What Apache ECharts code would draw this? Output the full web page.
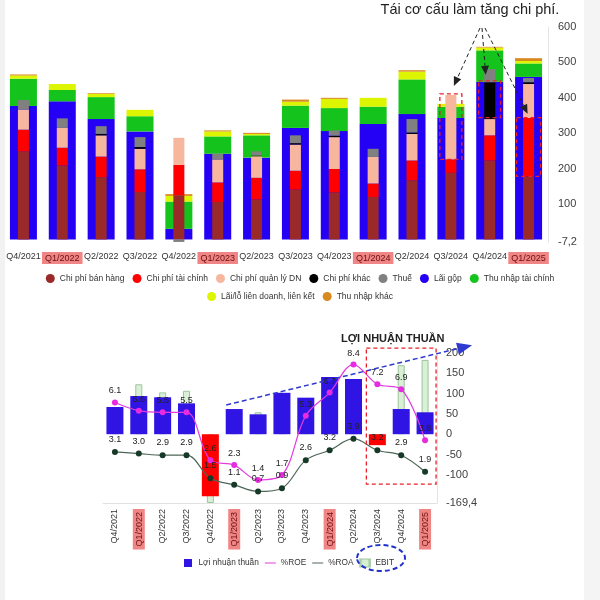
<!DOCTYPE html>
<html><head><meta charset="utf-8">
<script src="https://cdn.jsdelivr.net/npm/echarts@6/dist/echarts.min.js"></script>
<style>html,body{margin:0;padding:0;background:#fff}#c{width:600px;height:600px}</style>
</head><body><div id="c"></div>
<script>
const quarters = ['Q4/2021','Q1/2022','Q2/2022','Q3/2022','Q4/2022','Q1/2023','Q2/2023','Q3/2023','Q4/2023','Q1/2024','Q2/2024','Q3/2024','Q4/2024','Q1/2025'];
// Top chart: income stack (wide bars)
const laiGop          = [377,390,340,305, 30,242,231,315,306,326,354,343,445,459];
const thuNhapTaiChinh = [ 77, 32, 62, 43, 77, 49, 63, 63, 65, 49, 98, 32, 89, 38];
const laiLoLDLK       = [  9, 17,  9, 18, 16, 14,  4, 11, 26, 25, 22,  8,  8,  7];
const thuNhapKhac     = [  3,  0,  2,  0,  5,  3,  3,  6,  3,  0,  4,  0,  2,  8];
// Top chart: cost stack (narrow bars)
const cpBanHang  = [249,209,176,134,125,106,113,141,133,120,167,188,223,178];
const cpTaiChinh = [ 61, 50, 58, 64, 86, 55, 61, 53, 66, 38, 56, 38, 71,165];
const cpQuanLy   = [ 57, 56, 60, 58, 76, 65, 61, 74, 90, 75, 75,182, 46, 96];
const cpKhac     = [  0,  0,  4,  5,  0,  0,  2,  4,  4,  0,  4,  0,104,  5];
const thue       = [ 27, 27, 22, 28, -7, 16, 12, 22, 15, 23, 38,  0, 37, 12];
const topTicks = [-7.2,100,200,300,400,500,600];
// Bottom chart
const loiNhuanThuan = [67,94,91,76,-153,62,49,102,90,141,136,-27,62,54];
const ebit          = [60,123,103,107,-169.4,55,54,95,85,135,130,-20,170,183];
const roe = [6.1,5.6,5.5,5.5,2.6,2.3,1.4,1.7,5.3,6.7,8.4,7.2,6.9,3.8];
const roa = [3.1,3.0,2.9,2.9,1.5,1.1,0.7,0.9,2.6,3.2,3.9,3.2,2.9,1.9];
const bottomTicks = [-169.4,-100,-50,0,50,100,150,200];

const FONT = 'Liberation Sans, Arial, sans-serif';
const C = {brown:'#9A2A2A', red:'#FF0000', peach:'#F7B79F', black:'#000000', gray:'#808080',
  blue:'#2400F5', green:'#14C31B', yellow:'#DDF500', orange:'#D98A1E'};
const hlFmt = v => v.indexOf('Q1') === 0 ? '{hl|' + v + '}' : v;
const hlRich = {hl:{backgroundColor:'#F08585', color:'#6A1010', padding:[2,3,1,3], fontSize:9, fontFamily:FONT}};
const fmtComma = v => String(v).replace('.', ',');
const LINE_ICON = 'path://M0,0L0.01,0L0.01,9L0,9Z M12,0L11.99,0L11.99,9L12,9Z M0,3.9H12V5.1H0Z';
const SQ_ICON = 'path://M0,0L0.01,0L0.01,9L0,9Z M10,0L9.99,0L9.99,9L10,9Z M1,0.5H9V8.5H1Z';

function barS(name, data, xi, color, width, stack, z){
  return {name, type:'bar', data, xAxisIndex:xi, yAxisIndex:0, stack, barWidth:width, z,
    itemStyle:{color}, emphasis:{disabled:true}};
}
const option = {
  animation:false,
  textStyle:{fontFamily:FONT},
  title:{text:'LỢI NHUẬN THUẦN', left:336, top:328, textStyle:{fontSize:11, fontWeight:'bold', color:'#222', fontFamily:FONT}},
  legend:[
    {data:['Chi phí bán hàng','Chi phí tài chính','Chi phí quản lý DN','Chi phí khác','Thuế','Lãi gộp','Thu nhập tài chính'],
     top:269, left:'center', icon:'circle', itemWidth:9, itemHeight:9, itemGap:8, textStyle:{fontSize:8.5, color:'#333'}},
    {data:['Lãi/lỗ liên doanh, liên kết','Thu nhập khác'],
     top:287, left:'center', icon:'circle', itemWidth:9, itemHeight:9, itemGap:8, textStyle:{fontSize:8.5, color:'#333'}},
    {data:[{name:'Lợi nhuận thuần', icon:SQ_ICON, itemStyle:{color:'#2F14E4'}},
           {name:'%ROE', icon:LINE_ICON, itemStyle:{color:'#E23BE0'}},
           {name:'%ROA', icon:LINE_ICON, itemStyle:{color:'#4E6658'}},
           {name:'EBIT', icon:SQ_ICON, itemStyle:{color:'#D6EFD0', borderColor:'#9CC59C', borderWidth:1}}],
     top:553, left:178, itemWidth:11, itemHeight:9, itemGap:6, textStyle:{fontSize:8.3, color:'#333'}}
  ],
  grid:[
    {left:4, right:52, top:27, height:215},
    {left:103, right:163, top:353, height:150}
  ],
  xAxis:[
    {type:'category', gridIndex:0, data:quarters, axisLine:{show:false, onZero:false}, axisTick:{show:false},
     axisLabel:{interval:0, fontSize:9, color:'#333', margin:10, formatter:hlFmt, rich:hlRich}},
    {type:'category', gridIndex:0, data:quarters, show:false},
    {type:'category', gridIndex:1, data:quarters, axisLine:{show:true, onZero:false, lineStyle:{color:'#e2e2e2'}}, axisTick:{show:false},
     axisLabel:{interval:0, rotate:90, fontSize:9, color:'#333', margin:6, formatter:hlFmt, rich:hlRich}},
    {type:'category', gridIndex:1, data:quarters, show:false}
  ],
  yAxis:[
    {type:'value', gridIndex:0, position:'right', min:-7.2, max:600, splitLine:{show:false},
     axisLine:{show:true, lineStyle:{color:'#e4e4e4'}}, axisTick:{show:false},
     axisLabel:{customValues:topTicks, formatter:fmtComma, fontSize:11, color:'#404040', margin:10}},
    {type:'value', gridIndex:1, position:'right', min:-169.4, max:200, splitLine:{show:false},
     axisLine:{show:true, lineStyle:{color:'#e4e4e4'}}, axisTick:{show:false},
     axisLabel:{customValues:bottomTicks, formatter:fmtComma, fontSize:11, color:'#404040', margin:9}},
    {type:'value', gridIndex:1, min:0, max:9.1, show:false}
  ],
  series:[
    barS('Lãi gộp', laiGop, 0, C.blue, 27, 'inc', 2),
    barS('Thu nhập tài chính', thuNhapTaiChinh, 0, C.green, 27, 'inc', 2),
    barS('Lãi/lỗ liên doanh, liên kết', laiLoLDLK, 0, C.yellow, 27, 'inc', 2),
    barS('Thu nhập khác', thuNhapKhac, 0, C.orange, 27, 'inc', 2),
    barS('Chi phí bán hàng', cpBanHang, 1, C.brown, 11, 'cost', 3),
    barS('Chi phí tài chính', cpTaiChinh, 1, C.red, 11, 'cost', 3),
    barS('Chi phí quản lý DN', cpQuanLy, 1, C.peach, 11, 'cost', 3),
    barS('Chi phí khác', cpKhac, 1, C.black, 11, 'cost', 3),
    barS('Thuế', thue, 1, C.gray, 11, 'cost', 3),
    {name:'EBIT', type:'bar', data:ebit, xAxisIndex:3, yAxisIndex:1, barWidth:7, z:2,
     itemStyle:{color:'rgba(205,235,200,0.75)', borderColor:'#9CC59C', borderWidth:1}},
    {name:'Lợi nhuận thuần', type:'bar', data:loiNhuanThuan, xAxisIndex:2, yAxisIndex:1, barWidth:17, z:3,
     itemStyle:{color: p => p.value < 0 ? '#FF0000' : '#2F14E4'}},
    {name:'%ROE', type:'line', data:roe, xAxisIndex:2, yAxisIndex:2, smooth:0.35, z:5,
     symbol:'circle', symbolSize:6, lineStyle:{color:'#E23BE0', width:1.2}, itemStyle:{color:'#E62BE0'},
     label:{show:true, position:'top', distance:4, fontSize:9, color:'#222', formatter:p=>p.value.toFixed(1)}},
    {name:'%ROA', type:'line', data:roa, xAxisIndex:2, yAxisIndex:2, smooth:0.35, z:5,
     symbol:'circle', symbolSize:6, lineStyle:{color:'#4E6658', width:1.2}, itemStyle:{color:'#173A28'},
     label:{show:true, position:'top', distance:5, fontSize:9, color:'#222', formatter:p=>p.value.toFixed(1)}}
  ]
};
const chart = echarts.init(document.getElementById('c'));
chart.setOption(option);

// ---- annotations ----
function px(xi, yi, cat, v){ return chart.convertToPixel({xAxisIndex:xi, yAxisIndex:yi}, [quarters.indexOf(cat), v]); }
function arrow(x1,y1,x2,y2,color,dash,hl,hw,width){
  const dx=x2-x1, dy=y2-y1, L=Math.hypot(dx,dy), ux=dx/L, uy=dy/L;
  const bx=x2-ux*hl, by=y2-uy*hl;
  return [
    {type:'line', shape:{x1,y1,x2:bx,y2:by}, style:{stroke:color, lineWidth:width||1, lineDash:dash}, z:20},
    {type:'polygon', shape:{points:[[x2,y2],[bx-uy*hw,by+ux*hw],[bx+uy*hw,by-ux*hw]]}, style:{fill:color}, z:20}
  ];
}
function box(xi, yi, cat, v1, v2, half, cat2){
  const a = px(xi, yi, cat, v1), b = px(xi, yi, cat2||cat, v2);
  return {type:'rect', shape:{x:a[0]-half, y:a[1], width:(b[0]-a[0])+2*half, height:b[1]-a[1]},
    style:{fill:null, stroke:'#E8202A', lineWidth:1.3, lineDash:[4,3]}, z:21};
}
const g = [];
g.push({type:'rect', shape:{x:0,y:0,width:5,height:600}, style:{fill:'#F2F2F2'}, z:-5});
g.push({type:'rect', shape:{x:584,y:0,width:16,height:600}, style:{fill:'#F4F4F4'}, z:-5});
g.push({type:'text', style:{text:'Tái cơ cấu làm tăng chi phí.', x:470, y:10, align:'center', verticalAlign:'middle', fontSize:14.5, fill:'#222', fontFamily:FONT}, z:20});
const b1 = box(1,0,'Q3/2024',411,226,11), b2 = box(1,0,'Q4/2024',448,344,11), b3 = box(1,0,'Q1/2025',344,178,12);
g.push(b1,b2,b3);
const t1 = px(1,0,'Q3/2024',411), t2 = px(1,0,'Q4/2024',448), t3 = px(1,0,'Q1/2025',344);
g.push(...arrow(480,28,t1[0]+3,t1[1]-8,'#222',[4,3],9,4,1));
g.push(...arrow(482,28,t2[0]-4,t2[1]-6,'#222',[4,3],9,4,1));
g.push(...arrow(485,28,t3[0]-1,t3[1]-4,'#222',[4,3],9,4,1));
// bottom chart
g.push(box(2,1,'Q3/2024',212,-123,11,'Q1/2025'));
const s = px(2,1,'Q1/2023',72), e = px(2,1,'Q1/2025',212);
g.push(...arrow(s[0]-8,s[1],e[0]+47,e[1]-3,'#2F3BD0',[5,3],15,6,1.5));
g.push({type:'ellipse', shape:{cx:381, cy:558, rx:24, ry:13}, style:{fill:null, stroke:'#2233CC', lineWidth:2, lineDash:[5,3]}, z:21});
chart.setOption({graphic:g});
</script></body></html>
